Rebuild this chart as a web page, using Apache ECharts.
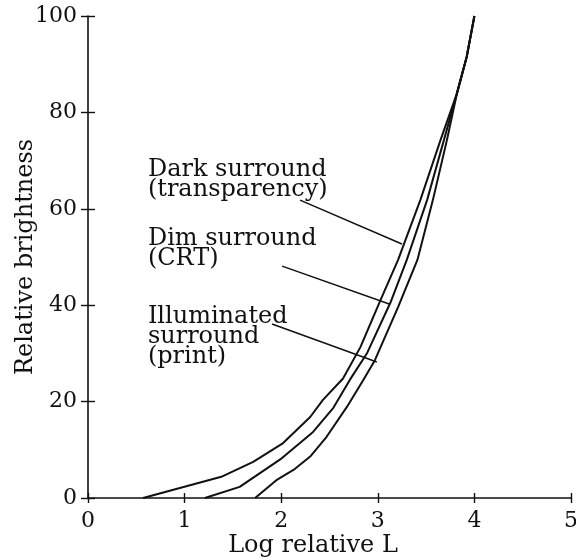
<!DOCTYPE html>
<html>
<head>
<meta charset="utf-8">
<script src="https://cdn.jsdelivr.net/npm/echarts@6/dist/echarts.min.js"></script>
<style>
  html, body { margin: 0; padding: 0; background: #ffffff; }
  #chart { width: 576px; height: 560px; }
</style>
</head>
<body>
<div id="chart"></div>
<script>
// Axis ranges and ticks
const xRange = [0, 5];
const xStep = 1;
const yRange = [0, 100];
const yStep = 20;

// Tone reproduction curves: [log relative luminance, relative brightness]
const darkSurround = [
  [0.57, 0], [1.38, 4.4], [1.71, 7.5], [2.02, 11.4], [2.30, 16.8], [2.43, 20.3],
  [2.64, 24.8], [2.82, 31.3], [3.02, 40.7], [3.21, 49.4], [3.44, 61.8],
  [3.65, 74.3], [3.82, 84.0], [3.92, 91.5], [4.0, 100]
];
const dimSurround = [
  [1.21, 0], [1.57, 2.3], [1.99, 8.0], [2.33, 13.7], [2.54, 18.7], [2.71, 24.5],
  [2.89, 30.1], [3.13, 40.5], [3.30, 49.4], [3.51, 61.8], [3.685, 74.3],
  [3.82, 84.0], [3.92, 91.5], [4.0, 100]
];
const illuminatedSurround = [
  [1.73, 0], [1.95, 3.7], [2.14, 6.0], [2.30, 8.6], [2.47, 12.7], [2.68, 18.9],
  [2.85, 24.5], [2.97, 28.6], [3.21, 39.6], [3.41, 49.4], [3.57, 61.8],
  [3.716, 74.3], [3.82, 84.0], [3.92, 91.5], [4.0, 100]
];

// Callout texts, their top-left anchors and leader lines (data coordinates)
const calloutTexts = [
  'Dark surround\n(transparency)',
  'Dim surround\n(CRT)',
  'Illuminated\nsurround\n(print)'
];
const calloutAnchors = [[0.62, 70.1], [0.62, 55.8], [0.62, 39.6]];
const leaderDark = [[2.195, 61.8], [3.25, 52.7]];
const leaderDim = [[2.01, 48.1], [3.126, 40.2]];
const leaderIlluminated = [[1.905, 36.1], [2.99, 28.2]];

const FONT = 'DejaVu Serif';
const INK = '#111111';

const chart = echarts.init(document.getElementById('chart'), null, { renderer: 'canvas' });

function curveSeries(name, data, width) {
  return {
    name: name,
    type: 'line',
    data: data,
    showSymbol: false,
    symbol: 'none',
    smooth: false,
    silent: true,
    lineStyle: { color: INK, width: width },
    xAxisIndex: 0,
    yAxisIndex: 0,
    z: 3
  };
}

const gridBox = { left: 88, right: 5, top: 16, bottom: 62, outerBoundsMode: 'none', containLabel: false };

const baseX = {
  type: 'value', min: xRange[0], max: xRange[1], interval: xStep,
  position: 'bottom', offset: 0,
  splitLine: { show: false }
};
const baseY = {
  type: 'value', min: yRange[0], max: yRange[1], interval: yStep,
  position: 'left', offset: 0,
  splitLine: { show: false }
};

chart.setOption({
  animation: false,
  backgroundColor: '#ffffff',
  // second grid carries the inward half of each tick mark
  grid: [Object.assign({}, gridBox), Object.assign({}, gridBox)],
  xAxis: [
    Object.assign({}, baseX, {
      gridIndex: 0,
      name: 'Log relative L',
      nameLocation: 'middle',
      nameGap: 36,
      nameMoveOverlap: false,
      nameTextStyle: { fontFamily: FONT, fontSize: 24, color: INK, padding: [0, 33, 0, 0] },
      axisLine: { show: true, lineStyle: { color: INK, width: 1.6 } },
      axisTick: { show: true, inside: false, length: 5, lineStyle: { color: INK, width: 1.4 } },
      axisLabel: { fontFamily: FONT, fontSize: 22, color: INK, margin: 12 }
    }),
    Object.assign({}, baseX, {
      gridIndex: 1,
      axisLine: { show: false },
      axisTick: { show: true, inside: true, length: 5, lineStyle: { color: INK, width: 1.4 } },
      axisLabel: { show: false }
    })
  ],
  yAxis: [
    Object.assign({}, baseY, {
      gridIndex: 0,
      name: 'Relative brightness',
      nameLocation: 'middle',
      nameGap: 50,
      nameMoveOverlap: false,
      nameTextStyle: { fontFamily: FONT, fontSize: 24, color: INK },
      axisLine: { show: true, lineStyle: { color: INK, width: 1.6 } },
      axisTick: { show: true, inside: false, length: 7, lineStyle: { color: INK, width: 1.4 } },
      axisLabel: { fontFamily: FONT, fontSize: 22, color: INK, margin: 11 }
    }),
    Object.assign({}, baseY, {
      gridIndex: 1,
      axisLine: { show: false },
      axisTick: { show: true, inside: true, length: 7, lineStyle: { color: INK, width: 1.4 } },
      axisLabel: { show: false }
    })
  ],
  series: [
    curveSeries('Dark surround', darkSurround, 2),
    curveSeries('Dim surround', dimSurround, 2),
    curveSeries('Illuminated surround', illuminatedSurround, 2),
    curveSeries('leader-dark', leaderDark, 1.5),
    curveSeries('leader-dim', leaderDim, 1.5),
    curveSeries('leader-illuminated', leaderIlluminated, 1.5)
  ]
});

// Callout labels placed from data anchors
const graphics = calloutTexts.map(function (txt, i) {
  const p = chart.convertToPixel({ xAxisIndex: 0, yAxisIndex: 0 }, calloutAnchors[i]);
  return {
    type: 'text',
    x: p[0],
    y: p[1],
    silent: true,
    style: {
      text: txt,
      fontFamily: FONT,
      fontSize: 24,
      lineHeight: 20,
      fill: INK,
      align: 'left',
      verticalAlign: 'top'
    },
    z: 10
  };
});
chart.setOption({ graphic: graphics });
</script>
</body>
</html>
